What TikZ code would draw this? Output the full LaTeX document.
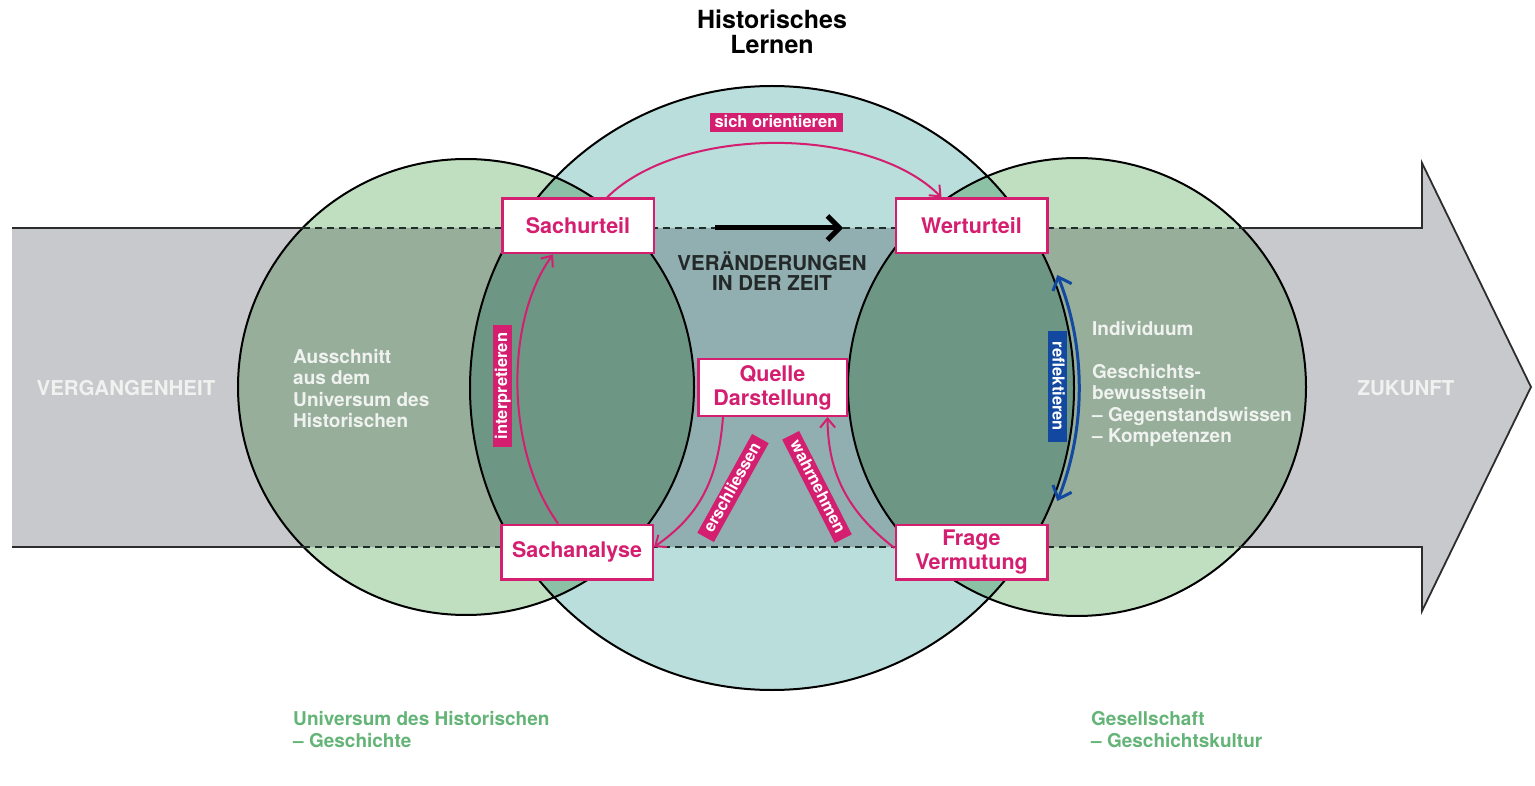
\documentclass[tikz,border=0pt]{standalone}
\usepackage{fontspec}
\setmainfont{TeX Gyre Heros}
\usetikzlibrary{arrows.meta}
\definecolor{mag}{RGB}{212,30,112}
\definecolor{bandgray}{RGB}{200,201,205}
\definecolor{lgreen}{RGB}{192,222,192}
\definecolor{lcyan}{RGB}{186,222,220}
\definecolor{darktext}{RGB}{35,40,40}
\definecolor{refblue}{RGB}{18,72,160}
\definecolor{botgreen}{RGB}{100,180,120}
\definecolor{pale}{RGB}{240,242,240}
\definecolor{edgegray}{RGB}{45,45,45}
\definecolor{dashcol}{RGB}{30,45,40}
\begin{document}
\begin{tikzpicture}[x=1pt,y=-1pt,
  box/.style={draw=mag,line width=2.5pt,fill=white,text=mag,
    font=\fontsize{21.5}{24}\selectfont\bfseries,align=center,
    minimum width=151.5pt,minimum height=54.5pt,inner sep=0pt},
  tag/.style={fill=mag,text=white,font=\fontsize{16.5}{16.5}\selectfont\bfseries,
    inner xsep=3pt,inner ysep=0pt,minimum height=19pt,text height=12pt,text depth=3pt},
  parrow/.style={draw=mag,line width=2pt,-{Straight Barb[length=9pt,width=15pt]}},
  barrow/.style={draw=refblue,line width=3pt,{Straight Barb[length=11pt,width=20pt]}-{Straight Barb[length=11pt,width=20pt]}},
  karrow/.style={draw=black,line width=5pt,-{Straight Barb[length=12pt,width=24pt]}},
  circline/.style={draw=black,line width=2pt},
  whitetext/.style={text=pale,font=\fontsize{19}{21.5}\selectfont\bfseries,align=left,anchor=north west,inner sep=0pt},
  greentext/.style={text=botgreen,font=\fontsize{19}{22}\selectfont\bfseries,align=left,anchor=north west,inner sep=0pt},
  timetext/.style={text=pale,font=\fontsize{20.5}{20.5}\selectfont\bfseries,inner sep=0pt}
]
\useasboundingbox (0,0) rectangle (1535,786);

% time band arrow
\fill[bandgray] (12,228) -- (1422,228) -- (1422,163) -- (1531,387) -- (1422,611) -- (1422,547) -- (12,547) -- cycle;

% circles
\begin{scope}[blend mode=multiply]
  \fill[lgreen] (466,387) circle[radius=228];
  \fill[lgreen] (1077,387) circle[radius=229];
  \fill[lcyan] (772,388) circle[radius=302];
\end{scope}
\draw[circline] (466,387) circle[radius=228];
\draw[circline] (1077,387) circle[radius=229];
\draw[circline] (772,388) circle[radius=302];

% band edges
\draw[edgegray,line width=2.3pt] (12,228) -- (303,228);
\draw[edgegray,line width=2.3pt] (12,547) -- (303,547);
\draw[edgegray,line width=1.8pt] (1241,228) -- (1422,228) -- (1422,163) -- (1531,387) -- (1422,611) -- (1422,547) -- (1241,547);
\draw[dashcol,line width=2pt,dash pattern=on 7pt off 5pt] (303,228) -- (1241,228);
\draw[dashcol,line width=2pt,dash pattern=on 7pt off 5pt] (303,547) -- (1241,547);

% time arrow
\coordinate (za) at (715,228);
\coordinate (zb) at (843,228);
\draw[karrow] (za) -- (zb);

% texts
\node[font=\fontsize{25}{25}\selectfont\bfseries,align=center,inner sep=0pt] (title) at (772,31.5) {Historisches\\Lernen};
\node[font=\fontsize{20.5}{20}\selectfont\bfseries,text=darktext,align=center,inner sep=0pt] (zeit) at (772,271) {VERÄNDERUNGEN\\IN DER ZEIT};
\node[timetext] (verg) at (126,388) {VERGANGENHEIT};
\node[timetext] (zuk) at (1406,388) {ZUKUNFT};
\node[whitetext] (aus) at (293,349) {Ausschnitt\\aus dem\\Universum des\\Historischen};
\node[whitetext] (indiv) at (1092,321) {Individuum\\[21.5pt]Geschichts-\\bewusstsein\\– Gegenstandswissen\\– Kompetenzen};
\node[greentext] (univ) at (293,711) {Universum des Historischen\\– Geschichte};
\node[greentext] (ges) at (1091,711) {Gesellschaft\\– Geschichtskultur};

% boxes
\node[box] (sachurteil) at (578,226) {Sachurteil};
\node[box] (werturteil) at (971.5,226) {Werturteil};
\node[box] (sachanalyse) at (577,552) {Sachanalyse};
\node[box] (frage) at (971.5,552) {Frage\\Vermutung};
\node[box,minimum width=148.5pt,minimum height=56.5pt] (quelle) at (772.5,387.5) {Quelle\\Darstellung};

% connectors
\draw[parrow] ([xshift=29pt]sachurteil.north) .. controls (680,125) and (870,125) .. ([xshift=-30pt]werturteil.north);
\draw[parrow] ([xshift=-19pt]sachanalyse.north) .. controls (505,450) and (505,320) .. ([xshift=-25pt]sachurteil.south);
\draw[parrow] ([xshift=-49.5pt]quelle.south) .. controls (718,480) and (700,515) .. ([yshift=5pt]sachanalyse.east);
\draw[parrow] ([yshift=4pt]frage.west) .. controls (845,510) and (828,470) .. ([xshift=55pt]quelle.south);
\coordinate (rtop) at (1057.4,275);
\coordinate (rbot) at (1057.4,501);
\draw[barrow] (rtop) .. controls (1086.1,347.6) and (1086.1,428.4) .. (rbot);

% tags
\node[tag,minimum width=133pt] (orient) at (776,123) {sich orientieren};
\node[tag,rotate=90,minimum width=122pt] (interp) at (502.5,386) {interpretieren};
\node[tag,fill=refblue,rotate=-90,minimum width=111pt] (refl) at (1057,386.5) {reflektieren};
\node[tag,rotate=61,minimum width=113pt] (ersch) at (733,488) {erschliessen};
\node[tag,rotate=-63,minimum width=116pt] (wahr) at (817,487) {wahrnehmen};
\end{tikzpicture}
\end{document}
